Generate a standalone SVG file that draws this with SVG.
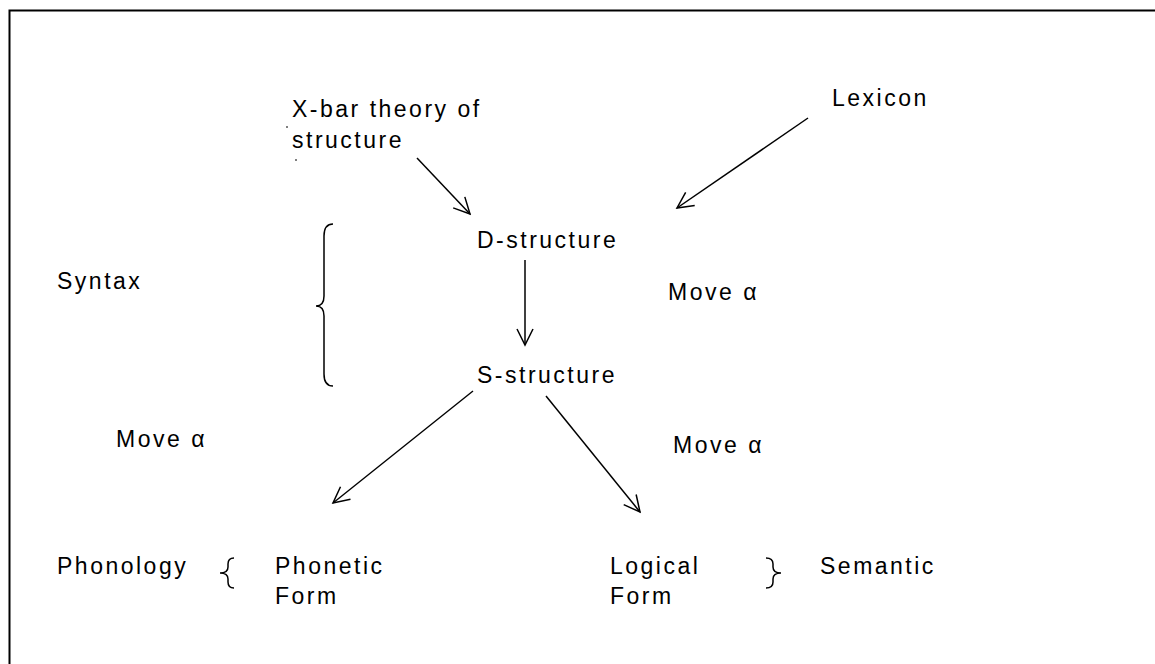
<svg xmlns="http://www.w3.org/2000/svg" width="1155" height="664" viewBox="0 0 1155 664">
<style>
text{font-family:"Liberation Sans",Arial,sans-serif;font-size:23px;letter-spacing:2.5px;fill:#000}
.c{fill:none;stroke:#000;stroke-width:1.5}
</style>
<defs>
<marker id="ah" markerWidth="20" markerHeight="20" viewBox="-18 -10 20 20" refX="0" refY="0" orient="auto" markerUnits="userSpaceOnUse">
<path d="M-16,-8 L0,0 L-16,8" fill="none" stroke="#000" stroke-width="1.5"/>
</marker>
</defs>
<rect x="9.5" y="10.5" width="1170" height="680" fill="#fff" stroke="#000" stroke-width="2"/>
<g id="xbar"><text x="292" y="117">X-bar theory of</text><text x="292" y="148">structure</text>
<line x1="286" y1="127" x2="288" y2="127" stroke="#000"/><line x1="295" y1="160" x2="297" y2="160" stroke="#000"/></g>
<g id="lexicon"><text x="832" y="106">Lexicon</text></g>
<g id="dstructure"><text x="477" y="248">D-structure</text></g>
<g id="sstructure"><text x="477" y="383">S-structure</text></g>
<g id="syntax"><text x="57" y="289">Syntax</text>
<path class="c" d="M333,224 Q324,224 324,236 L324,296 Q324,306 316,306 Q324,306 324,316 L324,374 Q324,386 333,386"/></g>
<g id="move1"><text x="668" y="300">Move α</text></g>
<g id="move2"><text x="116" y="447">Move α</text></g>
<g id="move3"><text x="673" y="453">Move α</text></g>
<g id="phonology"><text x="57" y="574">Phonology</text></g>
<g id="phonetic"><text x="275" y="574">Phonetic</text><text x="275" y="604">Form</text>
<path class="c" d="M234,558 Q228,558 228,564 L228,567 Q228,573 220,573 Q228,573 228,579 L228,582 Q228,588 234,588"/></g>
<g id="logical"><text x="610" y="574">Logical</text><text x="610" y="604">Form</text>
<path class="c" d="M766,558 Q773,558 773,564 L773,567 Q773,573 781,573 Q773,573 773,579 L773,582 Q773,588 766,588"/></g>
<g id="semantic"><text x="820" y="574">Semantic</text></g>
<g id="connectors">
<line class="c" x1="417" y1="158" x2="470" y2="214" marker-end="url(#ah)"/>
<line class="c" x1="808" y1="118" x2="677" y2="208" marker-end="url(#ah)"/>
<line class="c" x1="525" y1="260" x2="525" y2="345" marker-end="url(#ah)"/>
<line class="c" x1="473" y1="391" x2="333" y2="503" marker-end="url(#ah)"/>
<line class="c" x1="546" y1="396" x2="640" y2="512" marker-end="url(#ah)"/>
</g>
</svg>
